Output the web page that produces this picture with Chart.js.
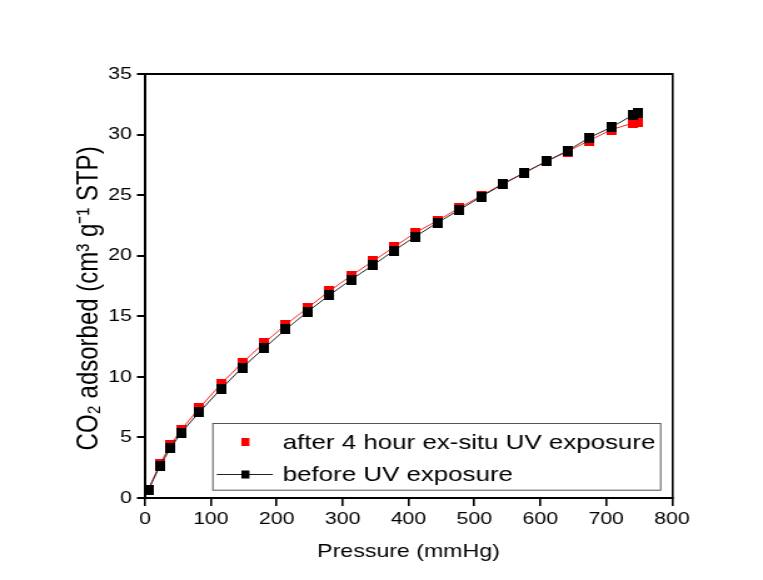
<!DOCTYPE html>
<html><head><meta charset="utf-8">
<script src="https://cdn.jsdelivr.net/npm/chart.js@4/dist/chart.umd.min.js"></script>
<style>
html,body{margin:0;padding:0;background:#fff;overflow:hidden;}
#wrap{width:763px;height:580px;overflow:hidden;background:#fff;}
canvas{display:block;transform:scaleX(1.2508);transform-origin:0 0;}
</style></head><body>
<div id="wrap"><canvas id="c" width="610" height="580"></canvas></div>
<script>
// ---- data ----
const pressure = [5, 22.8, 38.4, 54.6, 82, 115.8, 147.6, 181, 213.5, 246.9, 279.2, 312.6, 346, 378.3, 410.3, 444.2, 477, 510.3, 543.2, 576.2, 609.6, 641.4, 674.2, 707.6, 741, 747.6];
const afterUV  = [0.7, 2.8, 4.35, 5.6, 7.4, 9.43, 11.17, 12.8, 14.3, 15.7, 17.05, 18.34, 19.55, 20.73, 21.9, 22.9, 23.95, 24.95, 25.95, 26.86, 27.8, 28.6, 29.5, 30.4, 30.96, 31.0];
const beforeUV = [0.64, 2.68, 4.1, 5.37, 7.07, 9.03, 10.76, 12.38, 13.92, 15.38, 16.72, 18.01, 19.22, 20.43, 21.58, 22.74, 23.78, 24.88, 25.9, 26.86, 27.8, 28.67, 29.74, 30.6, 31.62, 31.78];
const seriesNames = ['after 4 hour ex-situ UV exposure', 'before UV exposure'];
const xTicks = [0, 100, 200, 300, 400, 500, 600, 700, 800];
const yTicks = [0, 5, 10, 15, 20, 25, 30, 35];
const xTitle = 'Pressure (mmHg)';
const yTitle = 'CO\u2082 adsorbed (cm\u00B3 g\u207B\u00B9 STP)';

const FAM = '"Liberation Sans", Arial, sans-serif';

function marker(w, h, color) {
  const c = document.createElement('canvas');
  c.width = w; c.height = h;
  const g = c.getContext('2d');
  g.fillStyle = color; g.fillRect(0, 0, w, h);
  return c;
}
const blackPt = marker(8, 10, '#000');
const redPt = marker(8, 10, '#ff0000');

const boxLegend = {
  id: 'boxLegend',
  afterDatasetsDraw(chart) {
    const {ctx, chartArea: ca} = chart;
    const ds = chart.data.datasets;
    const L = ca.left + 54.3, R = ca.right - 9.1, T = ca.bottom - 74.5, B = ca.bottom - 7.8;
    ctx.save();
    ctx.fillStyle = '#fff';
    ctx.fillRect(L, T, R - L, B - T);
    ctx.strokeStyle = '#555';
    ctx.lineWidth = 1;
    ctx.strokeRect(L, T, R - L, B - T);
    const mx = ca.left + 80.3, tx = ca.left + 110.2;
    const rows = [ds[1], ds[0]];
    const ys = [ca.bottom - 56, ca.bottom - 23.5];
    ctx.font = '20.7px ' + FAM;
    ctx.textBaseline = 'middle';
    ctx.textAlign = 'left';
    rows.forEach((d, i) => {
      const y = ys[i];
      if (d.showLegendLine) {
        ctx.strokeStyle = d.borderColor; ctx.lineWidth = 1;
        ctx.beginPath(); ctx.moveTo(ca.left + 57.4, y); ctx.lineTo(ca.left + 102.2, y); ctx.stroke();
      }
      ctx.fillStyle = d.markerColor;
      ctx.fillRect(mx - 3.2, y - 4, 6.4, 8);
      ctx.fillStyle = '#000';
      ctx.fillText(d.label, tx, y + 1);
    });
    ctx.restore();
  }
};

new Chart(document.getElementById('c'), {
  type: 'line',
  data: {
    datasets: [
      {
        label: seriesNames[1],
        data: pressure.map((p, i) => ({x: p, y: beforeUV[i]})),
        borderColor: '#222', borderWidth: 1, backgroundColor: '#000',
        pointStyle: blackPt, pointRadius: 5, tension: 0, order: 0, clip: false,
        markerColor: '#000', showLegendLine: true
      },
      {
        label: seriesNames[0],
        data: pressure.map((p, i) => ({x: p, y: afterUV[i]})),
        borderColor: '#ff2020', borderWidth: 1, backgroundColor: '#ff0000',
        pointStyle: redPt, pointRadius: 5, tension: 0, order: 1, clip: false,
        markerColor: '#ff0000', showLegendLine: false
      }
    ]
  },
  options: {
    responsive: false, animation: false, devicePixelRatio: 1,
    layout: {padding: 0},
    plugins: {legend: {display: false}, tooltip: {enabled: false}},
    scales: {
      x: {
        type: 'linear', position: 'bottom', min: 0, max: 800,
        afterBuildTicks: s => { s.ticks = xTicks.map(v => ({value: v})); },
        ticks: {color: '#000', font: {family: FAM, size: 17}, padding: 3, maxRotation: 0, autoSkip: false},
        grid: {drawOnChartArea: false, drawTicks: true, tickLength: 8, color: '#000', lineWidth: 1.6},
        border: {display: true, color: '#000', width: 2},
        title: {display: true, text: xTitle, color: '#000', font: {family: FAM, size: 18.5}, padding: {top: 0, bottom: 17}},
        afterFit: s => { s.height = 82; }
      },
      y: {
        type: 'linear', position: 'left', min: 0, max: 35,
        afterBuildTicks: s => { s.ticks = yTicks.map(v => ({value: v})); },
        ticks: {color: '#000', font: {family: FAM, size: 17}, padding: 4},
        grid: {drawOnChartArea: false, drawTicks: true, tickLength: 6.4, color: '#000', lineWidth: 2},
        border: {display: true, color: '#000', width: 2},
        title: {display: true, text: yTitle + '   \u2009', color: '#000', font: {family: FAM, size: 24}, padding: {top: 57.2, bottom: 0}},
        afterFit: s => { s.width = 115.9; }
      },
      x2: {
        type: 'linear', position: 'top', display: true,
        ticks: {display: false}, grid: {display: false},
        border: {display: true, color: '#000', width: 2},
        afterFit: s => { s.height = 74; }
      },
      y2: {
        type: 'linear', position: 'right', display: true,
        ticks: {display: false}, grid: {display: false},
        border: {display: true, color: '#000', width: 1.6},
        afterFit: s => { s.width = 72.7; }
      }
    }
  },
  plugins: [boxLegend]
});
</script>
</body></html>
